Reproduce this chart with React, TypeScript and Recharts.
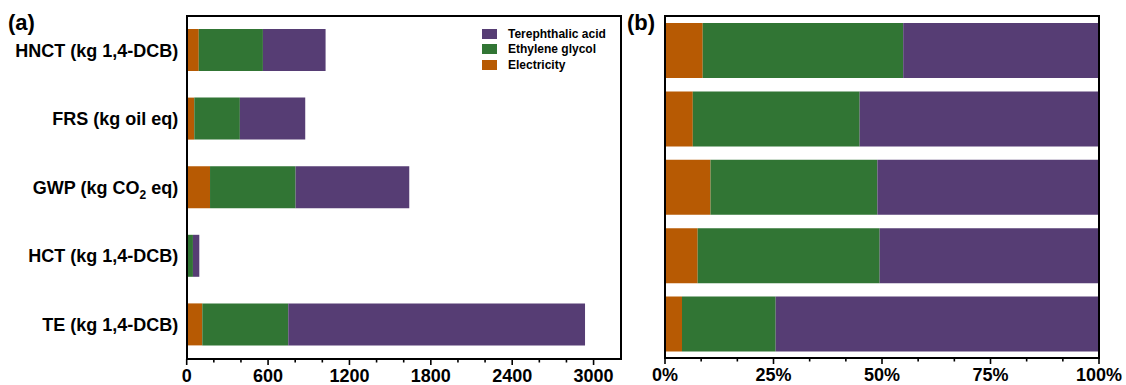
import { BarChart, Bar, XAxis, YAxis, Legend } from "recharts";

const categories = ["HNCT (kg 1,4-DCB)", "FRS (kg oil eq)", "GWP (kg CO2 eq)", "HCT (kg 1,4-DCB)", "TE (kg 1,4-DCB)"];
const electricity = [89, 56, 172, 7, 115];
const ethyleneGlycol = [473, 336, 631, 39, 634];
const terephthalicAcid = [462, 482, 838, 47, 2188];

const ticksA = [0, 200, 400, 600, 800, 1000, 1200, 1400, 1600, 1800, 2000, 2200, 2400, 2600, 2800, 3000];
const labelsA = [0, 600, 1200, 1800, 2400, 3000];
const ticksB = [0, 0.0833, 0.1667, 0.25, 0.3333, 0.4167, 0.5, 0.5833, 0.6667, 0.75, 0.8333, 0.9167, 1];
const labelsB = [0, 0.25, 0.5, 0.75, 1];
const legendOrder = ["Terephthalic acid", "Ethylene glycol", "Electricity"];

const FONT = "Arial, 'Liberation Sans', sans-serif";
const ORANGE = "#b75a03";
const GREEN = "#317534";
const PURPLE = "#563d74";

const data = categories.map((name, i) => ({
  name,
  electricity: electricity[i],
  glycol: ethyleneGlycol[i],
  acid: terephthalicAcid[i],
}));

const makeXTick = (labels: number[], fmt: (v: number) => string) => (props: any) => {
  const { x, y, payload } = props;
  const v = payload.value;
  const major = labels.some((l) => Math.abs(l - v) < 1e-6);
  return (
    <g>
      <line x1={x} x2={x} y1={y} y2={y + (major ? 6 : 3.5)} stroke="#000" strokeWidth={1.6} />
      {major && (
        <text x={x} y={y + 23} textAnchor="middle" fontSize={18} fontWeight="bold" fill="#000" fontFamily={FONT}>
          {fmt(v)}
        </text>
      )}
    </g>
  );
};

const YTick = (props: any) => {
  const { x, y, payload } = props;
  const label: string = payload.value;
  const parts = label.split("CO2");
  return (
    <text x={x} y={y} dy="0.35em" textAnchor="end" fontSize={18} fontWeight="bold" fill="#000" fontFamily={FONT}>
      {parts.length > 1 ? (
        <>
          {parts[0]}CO
          <tspan fontSize={12} dy={5}>2</tspan>
          <tspan dy={-5}>{parts[1]}</tspan>
        </>
      ) : (
        label
      )}
    </text>
  );
};

const LegendContent = (props: any) => {
  const items = [...(props.payload || [])].sort(
    (a: any, b: any) => legendOrder.indexOf(a.value) - legendOrder.indexOf(b.value)
  );
  return (
    <div style={{ fontFamily: FONT, fontSize: 12, fontWeight: "bold", color: "#000" }}>
      {items.map((it: any) => (
        <div key={it.value} style={{ display: "flex", alignItems: "center", height: 15.5 }}>
          <span style={{ width: 15, height: 10, background: it.color, marginRight: 11, display: "inline-block" }} />
          <span>{it.value}</span>
        </div>
      ))}
    </div>
  );
};

const frame = (left: number, top: number, width: number, height: number) => ({
  position: "absolute" as const,
  left,
  top,
  width,
  height,
  border: "2px solid #000",
  boxSizing: "border-box" as const,
  pointerEvents: "none" as const,
});

const panelLabel = (left: number) => ({
  position: "absolute" as const,
  left,
  top: 11.5,
  fontFamily: FONT,
  fontSize: 22,
  fontWeight: "bold" as const,
  lineHeight: "22px",
  color: "#000",
});

export default function App() {
  return (
    <div style={{ position: "absolute", left: 0, top: 0, width: 1126, height: 385, background: "#fff" }}>
      <div style={{ position: "absolute", left: 0, top: 0 }}>
        <BarChart width={640} height={385} data={data} layout="vertical" margin={{ top: 16, right: 19.3, bottom: 0, left: 0 }} barSize={42}>
          <XAxis
            type="number"
            domain={[0, 3200]}
            ticks={ticksA}
            interval={0}
            height={26}
            axisLine={false}
            tickLine={false}
            tickSize={0}
            tickMargin={0}
            tick={makeXTick(labelsA, (v) => String(v))}
          />
          <YAxis
            type="category"
            dataKey="name"
            width={186.7}
            axisLine={false}
            tickLine={false}
            tickSize={0}
            tickMargin={8.5}
            interval={0}
            tick={<YTick />}
          />
          <Legend
            layout="vertical"
            align="center"
            verticalAlign="middle"
            content={<LegendContent />}
            wrapperStyle={{ left: 482, top: 26, width: 150 }}
          />
          <Bar dataKey="electricity" name="Electricity" stackId="s" fill={ORANGE} isAnimationActive={false} />
          <Bar dataKey="glycol" name="Ethylene glycol" stackId="s" fill={GREEN} isAnimationActive={false} />
          <Bar dataKey="acid" name="Terephthalic acid" stackId="s" fill={PURPLE} isAnimationActive={false} />
        </BarChart>
      </div>
      <div style={{ position: "absolute", left: 640, top: 0 }}>
        <BarChart width={486} height={385} data={data} layout="vertical" stackOffset="expand" margin={{ top: 16, right: 27, bottom: 0, left: 25 }} barSize={55}>
          <XAxis
            type="number"
            domain={[0, 1]}
            ticks={ticksB}
            interval={0}
            height={27}
            axisLine={false}
            tickLine={false}
            tickSize={0}
            tickMargin={0}
            tick={makeXTick(labelsB, (v) => `${Math.round(v * 100)}%`)}
          />
          <YAxis type="category" dataKey="name" hide />
          <Bar dataKey="electricity" name="Electricity" stackId="s" fill={ORANGE} isAnimationActive={false} />
          <Bar dataKey="glycol" name="Ethylene glycol" stackId="s" fill={GREEN} isAnimationActive={false} />
          <Bar dataKey="acid" name="Terephthalic acid" stackId="s" fill={PURPLE} isAnimationActive={false} />
        </BarChart>
      </div>
      <div style={frame(185.7, 15, 436, 345)} />
      <div style={frame(664, 15, 436, 344)} />
      <div style={panelLabel(8)}>(a)</div>
      <div style={panelLabel(627)}>(b)</div>
    </div>
  );
}
